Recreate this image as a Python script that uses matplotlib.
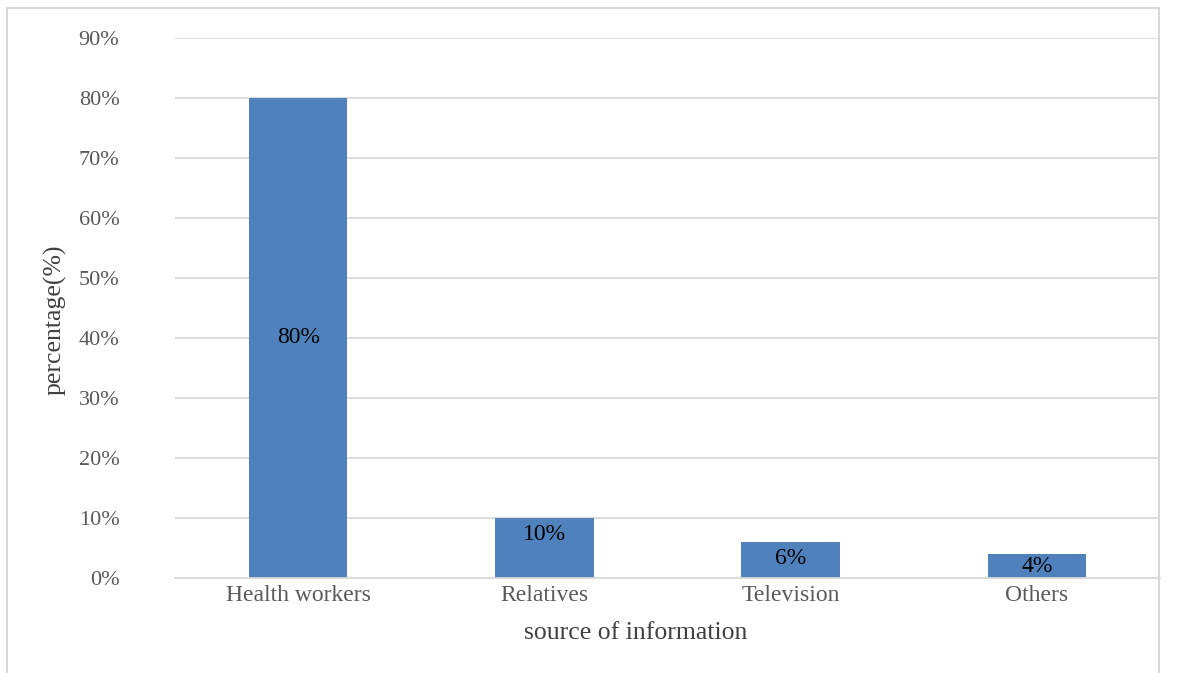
import numpy as np
import matplotlib.pyplot as plt
from matplotlib.patches import Rectangle

# Data
categories = ['Health workers', 'Relatives', 'Television', 'Others']
percentages = [0.80, 0.10, 0.06, 0.04]
labels = ['80%', '10%', '6%', '4%']
yticks = np.arange(0, 0.91, 0.1)

W, H = 1178, 673
plt.rcParams['font.family'] = ['Liberation Serif', 'DejaVu Serif']

fig = plt.figure(figsize=(W / 100, H / 100), dpi=100)

# Chart area border
fig.patches.append(Rectangle((7 / W, -0.1), (1159 - 7) / W, 1.1 - 8 / H,
                             transform=fig.transFigure, fill=False,
                             edgecolor='#D9D9D9', linewidth=1.5))

ax = fig.add_axes([175 / W, 1 - 578 / H, 985 / W, (578 - 38) / H])
x = np.arange(len(categories))
bars = ax.bar(x, percentages, width=0.4, color='#4F81BD', zorder=2)

ax.set_xlim(-0.5, len(categories) - 0.5)
ax.set_ylim(0, 0.9)
ax.set_yticks(yticks)
ax.set_yticklabels([f'{int(round(t * 100))}%' for t in yticks])
ax.set_xticks(x)
ax.set_xticklabels(categories)
ax.tick_params(axis='y', length=0, pad=40, labelsize=16, labelcolor='#595959')
ax.tick_params(axis='x', length=0, pad=5, labelsize=17, labelcolor='#595959')
ax.grid(axis='y', color='#D9D9D9', linewidth=1.3, zorder=0)
for s in ['top', 'right', 'left']:
    ax.spines[s].set_visible(False)
ax.spines['bottom'].set_color('#D9D9D9')
ax.spines['bottom'].set_linewidth(1.3)

# Data labels: near the top inside tall bars, centred in short ones
px_per_unit = ax.get_position().height * H / 0.9
for i, (v, lab) in enumerate(zip(percentages, labels)):
    if i == 0 or v * px_per_unit < 34:
        ax.text(i, v / 2, lab, ha='center', va='center', fontsize=17, color='black', zorder=3)
    else:
        ax.annotate(lab, (i, v), xytext=(0, -12), textcoords='offset points',
                    ha='center', va='center', fontsize=17, color='black', zorder=3)

fig.text(55 / W, 1 - 320 / H, 'percentage(%)', rotation=90, ha='center', va='center',
         fontsize=18.5, color='#404040')
fig.text(636 / W, 1 - 633 / H, 'source of information', ha='center', va='center',
         fontsize=18.5, color='#404040')

fig.savefig('out.png', dpi=100)
